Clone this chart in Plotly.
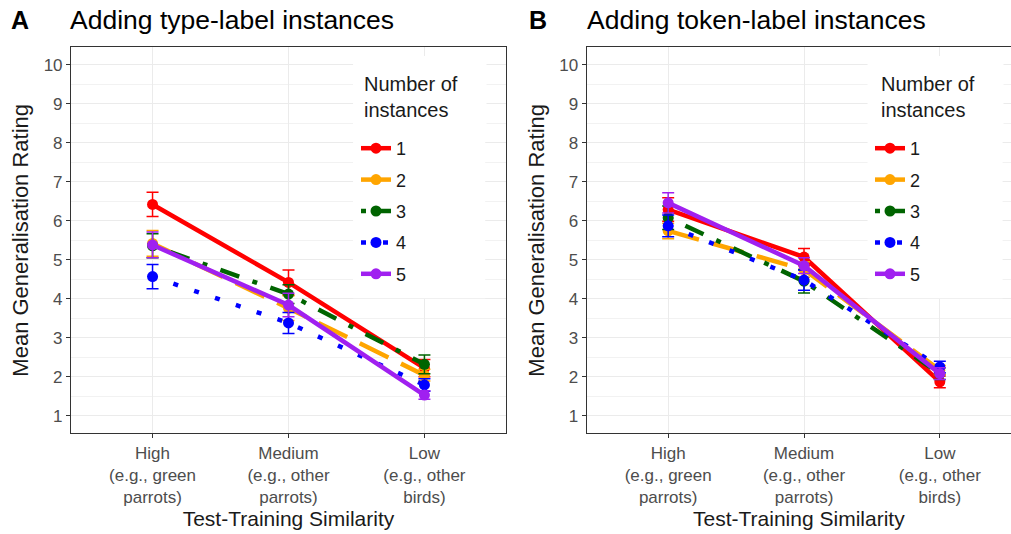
import plotly.graph_objects as go

categories = ["High<br>(e.g., green<br>parrots)", "Medium<br>(e.g., other<br>parrots)", "Low<br>(e.g., other<br>birds)"]
xpos = [0, 1, 2]
instances = ["1", "2", "3", "4", "5"]

# Panel A: type-label instances
a_means = {
    "1": [6.42, 4.42, 2.22],
    "2": [5.42, 3.76, 2.04],
    "3": [5.36, 4.12, 2.32],
    "4": [4.57, 3.38, 1.79],
    "5": [5.38, 3.84, 1.53],
}
a_err = {
    "1": [0.31, 0.32, 0.22],
    "2": [0.33, 0.32, 0.15],
    "3": [0.31, 0.24, 0.24],
    "4": [0.31, 0.27, 0.16],
    "5": [0.33, 0.30, 0.11],
}
# Panel B: token-label instances
b_means = {
    "1": [6.29, 5.07, 1.87],
    "2": [5.74, 4.75, 2.17],
    "3": [6.08, 4.45, 2.08],
    "4": [5.87, 4.48, 2.25],
    "5": [6.46, 4.85, 2.08],
}
b_err = {
    "1": [0.30, 0.22, 0.15],
    "2": [0.20, 0.20, 0.12],
    "3": [0.30, 0.30, 0.15],
    "4": [0.28, 0.26, 0.15],
    "5": [0.26, 0.20, 0.15],
}
legend_title = "Number of<br>instances"

colors = {"1": "#FF0000", "2": "#FFA500", "3": "#006400", "4": "#0000FF", "5": "#A020F0"}
dashes = {"1": "solid", "2": "32px,14px", "3": "5px,14px,20px,14px", "4": "5px,17px", "5": "solid"}

FONT = "Liberation Sans, Arial, sans-serif"
W, H = 1011, 534
fig = go.Figure()

for panel, means, errs, xa, ya, leg in [("A", a_means, a_err, "x", "y", "legend"),
                                         ("B", b_means, b_err, "x2", "y2", "legend2")]:
    for k in instances:
        fig.add_trace(go.Scatter(
            x=xpos, y=means[k], name=k, mode="lines+markers",
            xaxis=xa, yaxis=ya, legend=leg, legendgroup=panel + k,
            line=dict(color=colors[k], width=4.5, dash=dashes[k]),
            marker=dict(color=colors[k], size=11),
            error_y=dict(type="data", array=errs[k], visible=True,
                         color=colors[k], thickness=1.5, width=6),
        ))

ydom = [0.1886, 0.9114]
common_x = dict(tickvals=xpos, ticktext=categories, showgrid=True, gridcolor="#EBEBEB", gridwidth=1,
                zeroline=False, showline=True, linecolor="#333333", linewidth=1, mirror=True,
                ticks="outside", ticklen=4, tickcolor="#333333",
                tickfont=dict(family=FONT, size=17, color="#4D4D4D"),
                title=dict(text="Test-Training Similarity", font=dict(family=FONT, size=21, color="#1A1A1A"), standoff=2))
common_y = dict(range=[0.55, 10.45], tickvals=list(range(1, 11)), showgrid=True, gridcolor="#EBEBEB", gridwidth=1,
                minor=dict(tickvals=[x + 0.5 for x in range(0, 11)], showgrid=True, gridcolor="#F2F2F2", gridwidth=0.6, ticks=""),
                zeroline=False, showline=True, linecolor="#333333", linewidth=1,
                ticks="outside", ticklen=4, tickcolor="#333333",
                tickfont=dict(family=FONT, size=17, color="#4D4D4D"),
                title=dict(text="Mean Generalisation Rating", font=dict(family=FONT, size=22, color="#1A1A1A"), standoff=8))

legend_common = dict(bgcolor="white", borderwidth=0, xanchor="left", yanchor="top", y=1 - 130 / H,
                     font=dict(family=FONT, size=18, color="#1A1A1A"), tracegroupgap=5,
                     itemwidth=30)

def title_note(x_px):
    return dict(text=legend_title, x=x_px / W, y=1 - 56 / H, xref="paper", yref="paper",
                xanchor="left", yanchor="top", align="left", valign="middle",
                width=117, height=70, borderpad=5, bgcolor="white", showarrow=False,
                font=dict(family=FONT, size=20, color="#1A1A1A"))

def legend_box(xr, yr, x0, x1):
    return dict(type="rect", xref=xr, yref=yr, x0=x0, x1=x1,
                y0=4.015, y1=10.23, fillcolor="white", line=dict(width=0), layer="between")

fig.update_layout(
    width=W, height=H, autosize=False,
    margin=dict(l=0, r=0, t=0, b=0),
    paper_bgcolor="white", plot_bgcolor="white",
    xaxis=dict(domain=[0.0702, 0.5005], range=[-0.6, 2.6], **common_x),
    yaxis=dict(domain=ydom, mirror=True, **common_y),
    xaxis2=dict(domain=[0.5803, 1.0], range=[-0.6, 2.524], anchor="y2", **common_x),
    yaxis2=dict(domain=ydom, anchor="x2", mirror=False, **common_y),
    legend=dict(x=356 / W, **legend_common),
    legend2=dict(x=870 / W, **legend_common),
    shapes=[legend_box("x", "y", 1.475, 2.447), legend_box("x2", "y2", 1.468, 2.462)],
    annotations=[
        dict(text="<b>A</b>", x=9 / W, y=1 - 20 / H, xref="paper", yref="paper", xanchor="left", yanchor="middle",
             showarrow=False, font=dict(family=FONT, size=25, color="black")),
        dict(text="Adding type-label instances", x=68 / W, y=1 - 20 / H, xref="paper", yref="paper",
             xanchor="left", yanchor="middle", showarrow=False, font=dict(family=FONT, size=26.5, color="black")),
        dict(text="<b>B</b>", x=527 / W, y=1 - 20 / H, xref="paper", yref="paper", xanchor="left", yanchor="middle",
             showarrow=False, font=dict(family=FONT, size=25, color="black")),
        dict(text="Adding token-label instances", x=585 / W, y=1 - 20 / H, xref="paper", yref="paper",
             xanchor="left", yanchor="middle", showarrow=False, font=dict(family=FONT, size=26.5, color="black")),
        title_note(358),
        title_note(875),
    ],
)

fig.write_html("out.html", config={"displayModeBar": False},
               post_script="document.body.style.margin='0';")
